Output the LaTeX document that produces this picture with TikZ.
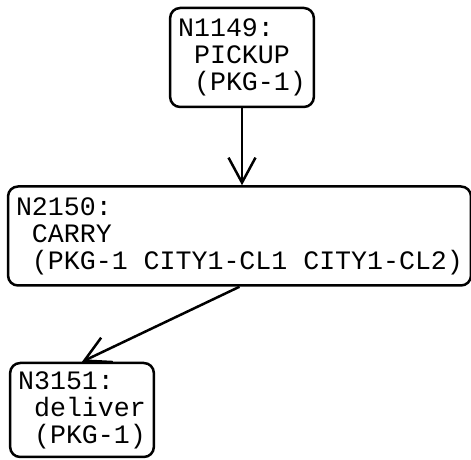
\documentclass[tikz,border=0pt]{standalone}
\usepackage{fontspec}
\setmonofont{Liberation Mono}
\usetikzlibrary{arrows.meta}
\newcommand{\indsp}{\hphantom{N}}
\begin{document}
\begin{tikzpicture}[x=1pt,y=1pt,
	step box/.style={draw, line width=2.5pt, rounded corners=10pt, align=left, inner xsep=8pt,
		font=\ttfamily\fontsize{26.6}{27}\selectfont, minimum height=99pt},
	plan arrow/.style={line width=2.5pt, -{Straight Barb[length=25pt,width=27pt,line width=2.5pt]}}]
			\useasboundingbox (0,0) rectangle (471,460);
			\node[step box] (n1149) at (242,402.5) {N1149:\\\indsp PICKUP\\\indsp (PKG-1)};
			\node[step box] (n2150) at (239.5,224) {N2150:\\\indsp CARRY\\\indsp (PKG-1 CITY1-CL1 CITY1-CL2)};
			\node[step box, minimum height=94pt] (n3151) at (82,50) {N3151:\\\indsp deliver\\\indsp (PKG-1)};
			\draw[plan arrow] (n1149.south) -- (n1149.south |- n2150.north);
			\draw[plan arrow] (n2150.south) -- (n3151.north);
		\end{tikzpicture}
\end{document}
